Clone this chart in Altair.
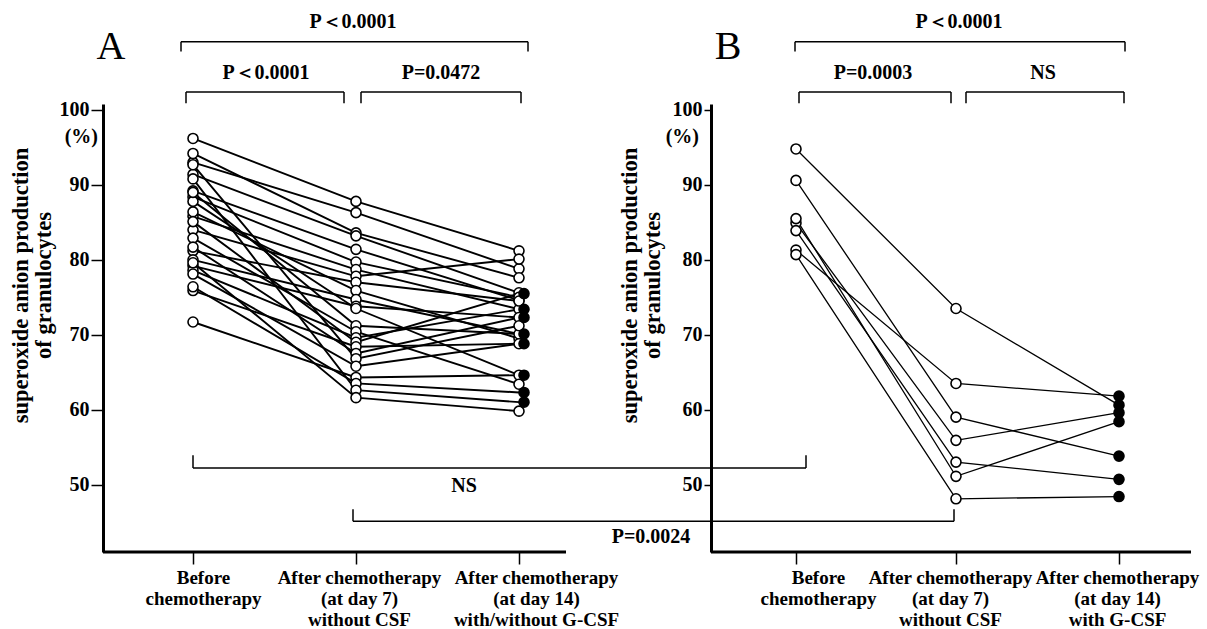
import altair as alt
import pandas as pd

FONT = "Liberation Serif"

# ---- category positions (layout) and tick labels ----
POS_A = [192, 355, 518]
POS_B = [795, 955, 1118]
LABELS_A = [["Before", "chemotherapy"],
            ["After chemotherapy", "(at day 7)", "without CSF"],
            ["After chemotherapy", "(at day 14)", "with/without G-CSF"]]
LABELS_B = [["Before", "chemotherapy"],
            ["After chemotherapy", "(at day 7)", "without CSF"],
            ["After chemotherapy", "(at day 14)", "with G-CSF"]]
LABEL_SHIFT = [10, 3, 17, 22, -6, -2]
Y_TICKS = [50, 60, 70, 80, 90, 100]
Y_TITLE = ["superoxide anion production", "of granulocytes"]

# ---- panel A values (%) ----
A_BEFORE = [96.2, 93.0, 94.2, 91.4, 89.2, 88.4, 85.8, 84.0, 81.2, 86.4, 80.0, 79.2, 87.8,
            89.0, 82.9, 78.6, 85.1, 75.9, 81.7, 92.7, 78.1, 71.7, 76.4, 90.8, 79.6]
A_DAY7 = [87.8, 86.3, 83.6, 83.2, 81.4, 79.7, 78.7, 77.8, 77.0, 75.9, 74.7, 73.8, 73.5,
          71.2, 70.4, 69.6, 69.0, 68.4, 67.5, 66.8, 65.8, 64.3, 63.5, 62.6, 61.6]
A_DAY14 = [81.2, 78.8, 77.6, 75.6, 74.6, 75.0, 73.4, 80.1, 74.5, 69.5, 70.1, 72.3, 64.6,
           70.1, 63.4, 73.4, 75.5, 68.8, 72.3, 71.2, 68.8, 64.6, 62.3, 61.0, 59.8]
A_GCSF = [0, 0, 0, 0, 0, 0, 0, 0, 0, 0, 0, 0, 0,
          1, 0, 1, 1, 0, 1, 0, 1, 1, 1, 1, 0]

# ---- panel B values (%) ----
B_BEFORE = [94.8, 90.6, 81.3, 84.9, 83.9, 85.5, 80.7]
B_DAY7 = [73.5, 59.0, 63.5, 55.9, 53.0, 51.1, 48.1]
B_DAY14 = [60.6, 53.8, 61.8, 59.6, 50.7, 58.4, 48.4]
B_GCSF = [1, 1, 1, 1, 1, 1, 1]

# ---- annotations ----
BRACKETS = [  # x1, x2, line level, tick end level
    (180, 527, 109.1, 107.8), (185, 343, 102.4, 100.9), (360, 520, 102.4, 100.9),
    (794, 1124, 109.1, 107.8), (798, 950, 102.4, 100.9), (965, 1123, 102.4, 100.9),
    (192, 805, 52.2, 53.9), (352, 953, 45.1, 46.7),
]
P_TEXTS = [("P\uff1c0.0001", 352, 111.7), ("P\uff1c0.0001", 265, 104.9), ("P=0.0472", 440, 104.9),
           ("P\uff1c0.0001", 958, 111.7), ("P=0.0003", 872, 104.9), ("NS", 1042, 104.9),
           ("NS", 463, 49.8), ("P=0.0024", 650, 43.0)]
LETTERS = [("A", 110, 108.4), ("B", 727, 108.4)]
PCT = [("(%)", 97, 96.4), ("(%)", 698, 96.4)]
X_AXIS_LINES = [(102, 565), (710, 1190)]
Y_MIN, Y_MAX = 41.0, 100.8


def panel_rows(name, pos, before, d7, d14, filled):
    rows = []
    for i in range(len(before)):
        for t, vals in enumerate([before, d7, d14]):
            rows.append({"pid": f"{name}{i}", "x": pos[t], "v": vals[i],
                         "filled": bool(filled[i]) if t == 2 else False})
    return pd.DataFrame(rows)


dfA = panel_rows("A", POS_A, A_BEFORE, A_DAY7, A_DAY14, A_GCSF)
dfB = panel_rows("B", POS_B, B_BEFORE, B_DAY7, B_DAY14, B_GCSF)

br_h = pd.DataFrame([{"x": a, "x2": b, "v": y} for a, b, y, t in BRACKETS])
br_v = pd.DataFrame([{"x": xx, "v": y, "v2": t} for a, b, y, t in BRACKETS for xx in (a, b)])
txt = pd.DataFrame([{"t": s, "x": x, "v": y} for s, x, y in P_TEXTS])
let = pd.DataFrame([{"t": s, "x": x, "v": y} for s, x, y in LETTERS])
pct = pd.DataFrame([{"t": s, "x": x, "v": y} for s, x, y in PCT])
xal = pd.DataFrame([{"x": a, "x2": b, "v": Y_MIN} for a, b in X_AXIS_LINES])

# x axis labels via labelExpr
tick_vals = POS_A + POS_B
tick_labels = LABELS_A + LABELS_B


def js_arr(lines):
    return "[" + ",".join("'" + s + "'" for s in lines) + "]"


expr = js_arr(tick_labels[-1])
for i in range(len(tick_vals) - 2, -1, -1):
    mid = (tick_vals[i] + tick_vals[i + 1]) / 2
    expr = f"datum.value < {mid} ? {js_arr(tick_labels[i])} : {expr}"

label_offset = {
    "condition": [{"test": f"datum.value == {v}", "value": o} for v, o in zip(tick_vals, LABEL_SHIFT)],
    "value": 0,
}

xaxis = alt.Axis(values=tick_vals, labelExpr=expr, domain=False, ticks=True, tickSize=12,
                 tickWidth=1.5, tickColor="black", labelFont=FONT, labelFontSize=19,
                 labelFontWeight="bold", labelColor="black", labelLineHeight=21,
                 labelPadding=4, labelOffset=label_offset, labelOverlap=False, labelFlush=False,
                 grid=False, title=None)
X = alt.X("x:Q", scale=alt.Scale(domain=[102, 1190], nice=False, zero=False), axis=xaxis)


def yaxis(offset, tick, pad):
    return alt.Axis(values=Y_TICKS, orient="left", offset=offset, tickSize=tick, tickWidth=1.5,
                    tickColor="black", domainWidth=3, domainColor="black",
                    labelFont=FONT, labelFontSize=20, labelFontWeight="bold", labelColor="black",
                    labelPadding=2, title=Y_TITLE, titleFont=FONT, titleFontSize=22.5,
                    titleFontWeight="bold", titleColor="black", titleLineHeight=23,
                    titleY=181, titlePadding=pad, grid=False)


yscale = alt.Scale(domain=[Y_MIN, Y_MAX], nice=False, zero=False)
YA = alt.Y("v:Q", scale=yscale, axis=yaxis(0, 12, 4))
YB = alt.Y("v:Q", scale=yscale, axis=yaxis(-608, 7, 8))

textstyle = dict(font=FONT, fontWeight="bold", color="black", baseline="middle")

lines_a = alt.Chart(dfA).mark_line(color="black", strokeWidth=1.9).encode(x=X, y=YA, detail="pid:N")
open_a = alt.Chart(dfA).transform_filter("!datum.filled").mark_circle(
    size=100, fill="white", stroke="black", strokeWidth=1.6, opacity=1).encode(x=X, y=YA)
fill_a = alt.Chart(dfA).transform_filter("datum.filled").mark_circle(
    size=100, fill="black", stroke="black", strokeWidth=1.6, opacity=1, xOffset=5).encode(x=X, y=YA)
axlines = alt.Chart(xal).mark_rule(color="black", strokeWidth=3).encode(x=X, x2="x2:Q", y=YA)
bh = alt.Chart(br_h).mark_rule(color="black", strokeWidth=1.5).encode(x=X, x2="x2:Q", y=YA)
bv = alt.Chart(br_v).mark_rule(color="black", strokeWidth=1.5).encode(x=X, y=YA, y2="v2:Q")
t_p = alt.Chart(txt).mark_text(fontSize=20, align="center", **textstyle).encode(x=X, y=YA, text="t:N")
t_l = alt.Chart(let).mark_text(font=FONT, fontSize=40, color="black", align="center",
                               baseline="middle").encode(x=X, y=YA, text="t:N")
t_pct = alt.Chart(pct).mark_text(fontSize=20, align="right", **textstyle).encode(x=X, y=YA, text="t:N")

groupA = alt.layer(axlines, lines_a, open_a, fill_a, bh, bv, t_p, t_l, t_pct)

lines_b = alt.Chart(dfB).mark_line(color="black", strokeWidth=1.3).encode(x=X, y=YB, detail="pid:N")
open_b = alt.Chart(dfB).transform_filter("!datum.filled").mark_circle(
    size=100, fill="white", stroke="black", strokeWidth=1.6, opacity=1).encode(x=X, y=YB)
fill_b = alt.Chart(dfB).transform_filter("datum.filled").mark_circle(
    size=100, fill="black", stroke="black", strokeWidth=1.6, opacity=1).encode(x=X, y=YB)
groupB = alt.layer(lines_b, open_b, fill_b)

chart = alt.layer(groupA, groupB).resolve_scale(y="independent").properties(
    width=1088, height=448,
    padding={"left": 9, "top": 12, "right": 0, "bottom": 0},
    background="white",
).configure_view(stroke=None)

chart.save("out.html", embed_options={"renderer": "svg", "actions": False})
